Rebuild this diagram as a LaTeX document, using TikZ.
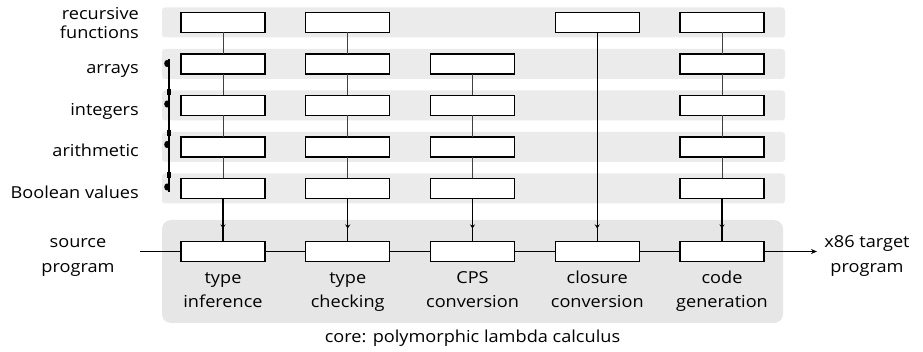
\documentclass[tikz,border=0pt]{standalone}
\usepackage{fontspec}
\setmainfont{Open Sans}[FakeStretch=1.1]
\usetikzlibrary{arrows.meta,decorations.markings}

\definecolor{bandgray}{HTML}{EBEBEB}
\definecolor{coregray}{HTML}{E6E6E6}

\tikzset{
  band/.style={fill=bandgray, draw=none, rounded corners=3pt},
  coreband/.style={fill=coregray, draw=none, rounded corners=9pt},
  stage/.style={draw, line width=1.4pt, fill=white, minimum width=84pt,
                minimum height=20pt, inner sep=0pt, outer sep=0pt},
  rowlabel/.style={font=\fontsize{16.5}{18.3}\selectfont, align=right,
                   inner sep=0pt, anchor=base east},
  label/.style={font=\fontsize{16.5}{23.3}\selectfont, align=center,
                inner sep=0pt, anchor=base},
  endlabel/.style={label, font=\fontsize{16.5}{25}\selectfont},
  link/.style={line width=0.9pt, draw=black!75},
  feed/.style={line width=1.1pt, postaction={decorate},
    decoration={markings, mark=at position -13pt with
      {\arrow{Stealth[length=4pt,width=5pt]}}}},
  flow/.style={line width=1.1pt},
}

\begin{document}
\begin{tikzpicture}[x=1pt,y=-1pt]
\useasboundingbox (0,0) rectangle (923,352);

% grey feature bands and the core band
\foreach \yc in {22.5,64,105.5,147,188.5}
  \fill[band] (162,\yc-15) rectangle (785,\yc+15);
\fill[coreband] (162,220) rectangle (783,323);

% feature labels (anchored at the baseline of the last line)
\node[rowlabel] (lrec) at (139,38.3) {recursive\\functions};
\node[rowlabel] (larr) at (139,74) {arrays};
\node[rowlabel] (lint) at (139,116) {integers};
\node[rowlabel] (lari) at (139,157) {arithmetic};
\node[rowlabel] (lbool) at (139,198.5) {Boolean values};

% feature stages (row r, column c)
\foreach \c/\x in {1/223,2/347.75,4/597.25,5/722}
  \node[stage] (s1\c) at (\x,22.5) {};
\foreach \r/\yc in {2/64,3/105.5,4/147,5/188.5}
  \foreach \c/\x in {1/223,2/347.75,3/472.5,5/722}
    \node[stage] (s\r\c) at (\x,\yc) {};

% core stages
\foreach \c/\x in {1/223,2/347.75,3/472.5,4/597.25,5/722}
  \node[stage] (k\c) at (\x,251.5) {};

% core stage names
\node[label] (n1) at (223,307.3) {type\\inference};
\node[label] (n2) at (347.75,307.3) {type\\checking};
\node[label] (n3) at (472.5,307.3) {CPS\\conversion};
\node[label] (n4) at (597.25,307.3) {closure\\conversion};
\node[label] (n5) at (722,307.3) {code\\generation};

\node[label] (core) at (472.5,342) {core: polymorphic lambda calculus};

% input and output
\node[endlabel] (src) at (78,273) {source\\program};
\node[endlabel] (dst) at (867,273) {x86 target\\program};
\coordinate (in) at (140,251.5);
\coordinate (out) at (817,251.5);

% pipeline through the core
\draw[flow] (in) -- (k1.west);
\draw[flow] (k1.east) -- (k2.west);
\draw[flow] (k2.east) -- (k3.west);
\draw[flow] (k3.east) -- (k4.west);
\draw[flow] (k4.east) -- (k5.west);
\draw[flow, -{Stealth[length=6pt,width=5pt]}] (k5.east) -- (out);

% links between feature stages of one column
\foreach \c in {1,2,5} {
  \draw[link] (s1\c) -- (s2\c);
}
\foreach \c in {1,2,3,5} {
  \draw[link] (s2\c) -- (s3\c);
  \draw[link] (s3\c) -- (s4\c);
  \draw[link] (s4\c) -- (s5\c);
  \draw[feed] (s5\c) -- (k\c);
}
\draw[feed] (s14) -- (k4);

% dependency chain among the feature rows
\coordinate (d2) at (167,63.5);
\coordinate (d3) at (167,104);
\coordinate (d4) at (167,144.5);
\coordinate (d5) at (167,187);
\coordinate (dt) at (169,59);
\coordinate (db) at (169,192);
\draw[line width=1.4pt] (dt) -- (db);
\foreach \p in {d2,d3,d4,d5}
  \fill (\p) ellipse (2.8pt and 3.6pt);
\foreach \yc in {92,133.5,175}
  \fill (167,\yc-3) rectangle (171,\yc+3);
\end{tikzpicture}
\end{document}
